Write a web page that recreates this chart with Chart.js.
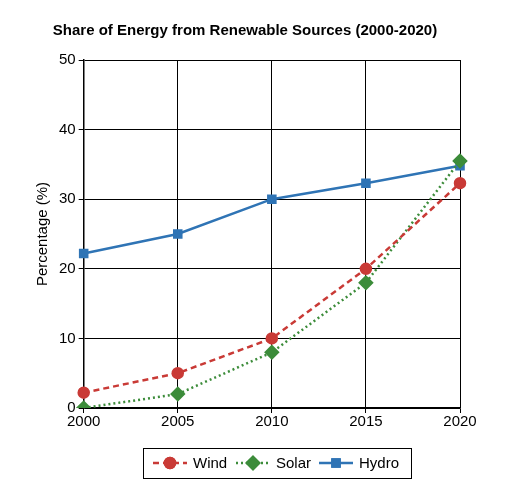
<!DOCTYPE html>
<html><head><script src="https://cdn.jsdelivr.net/npm/chart.js@4"></script>
<style>html,body{margin:0;padding:0;background:#fff}#w{width:512px;height:501px}</style></head>
<body><div id="w"><canvas id="c"></canvas></div>
<script>
const years = ['2000','2005','2010','2015','2020'];
const wind = [2.2, 5, 10, 20, 32.3];
const solar = [0, 2, 8, 18, 35.5];
const hydro = [22.2, 25, 30, 32.3, 34.8];
const yTicks = [0,10,20,30,40,50];
Chart.defaults.font.family = 'Liberation Sans, Arial, sans-serif';
Chart.defaults.color = '#000';
const legendBox = {id:'lb', afterDraw(ch){
  const c=ch.ctx;c.save();c.strokeStyle='#000';c.lineWidth=1;c.strokeRect(143.5,448.5,268,30);
  const xs=[153,236,319];
  ch.data.datasets.forEach((d,i)=>{
    const x=xs[i], y=463;
    c.strokeStyle=d.borderColor;c.lineWidth=2.5;c.setLineDash(d.borderDash||[]);
    c.beginPath();c.moveTo(x,y);c.lineTo(x+34,y);c.stroke();c.setLineDash([]);
    Chart.helpers.drawPoint(c,{pointStyle:d.pointStyle,radius:d.pointRadius,borderWidth:1},x+17,y);
    c.fillStyle=d.backgroundColor;c.strokeStyle=d.borderColor;
    Chart.helpers.drawPoint(c,{pointStyle:d.pointStyle,radius:d.pointRadius,borderWidth:1},x+17,y);
    c.fillStyle='#000';c.font='15px Liberation Sans, Arial, sans-serif';c.textBaseline='middle';
    c.fillText(d.label,x+40,y+1);
  });
  c.restore();}};
new Chart(document.getElementById('c'), {
  type:'line',
  data:{labels:years, datasets:[
    {label:'Wind', data:wind, borderColor:'#c93a36', backgroundColor:'#c93a36', borderDash:[6,4], borderWidth:2.5, pointStyle:'circle', pointRadius:5},
    {label:'Solar', data:solar, borderColor:'#3c8c3a', backgroundColor:'#3c8c3a', borderDash:[2,3], borderWidth:2.5, pointStyle:'rectRot', pointRadius:6},
    {label:'Hydro', data:hydro, borderColor:'#2f74b5', backgroundColor:'#2f74b5', borderWidth:2.5, pointStyle:'rect', pointRadius:5}
  ]},
  options:{responsive:true, maintainAspectRatio:false, animation:false,
    layout:{padding:{left:30,right:52,top:14,bottom:70}},
    plugins:{
      title:{display:true, text:'Share of Energy from Renewable Sources (2000-2020)', font:{size:15,weight:'bold'}, padding:{top:8,bottom:20}},
      legend:{display:false},
    },
    scales:{
      x:{offset:false, grid:{color:'#000', drawTicks:true, tickLength:5}, border:{color:'#000',width:1.5}, ticks:{font:{size:15}, padding:0}},
      y:{min:0,max:50, afterBuildTicks(a){a.ticks=yTicks.map(v=>({value:v}));}, grid:{color:'#000', tickLength:5}, border:{color:'#000',width:1.5}, ticks:{font:{size:15}},
         title:{display:true, text:'Percentage (%)', font:{size:15}}}
    }
  },
  plugins:[legendBox]
});
</script></body></html>
